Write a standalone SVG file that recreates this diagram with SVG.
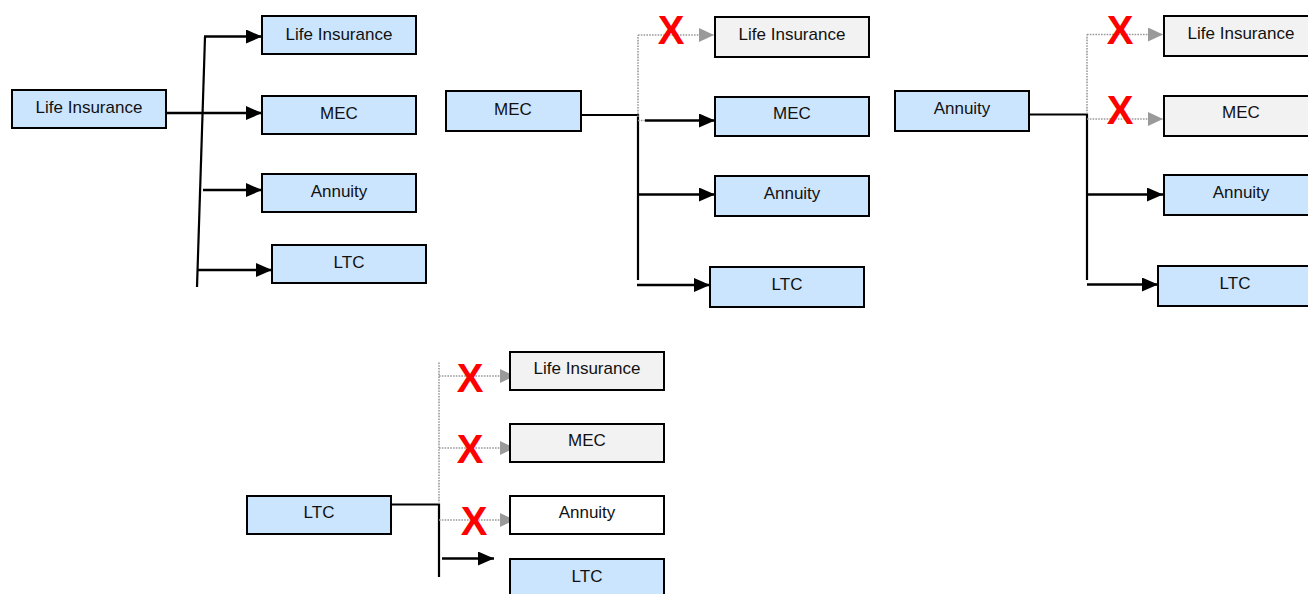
<svg xmlns="http://www.w3.org/2000/svg" width="1308" height="594" viewBox="0 0 1308 594">
<style>
.box{stroke:#000;stroke-width:2}
.blue{fill:#CCE5FF}
.gray{fill:#F2F2F2}
.white{fill:#FFFFFF}
.lbl{font-family:"Liberation Sans",Arial,sans-serif;font-size:17px;fill:#111;text-anchor:middle}
.ln{stroke:#000;stroke-width:2.2;fill:none}
.arr{stroke:#000;stroke-width:2.5;fill:none;marker-end:url(#ab)}
.dot{stroke:#9a9a9a;stroke-width:1.6;stroke-dasharray:1.6 1.2;fill:none}
.darr{stroke:#9a9a9a;stroke-width:1.6;stroke-dasharray:1.6 1.2;fill:none;marker-end:url(#ag)}
.x{font-family:"Liberation Sans",Arial,sans-serif;font-weight:bold;font-size:40px;fill:#FF0000;text-anchor:middle}
</style>
<defs>
<marker id="ab" markerUnits="userSpaceOnUse" markerWidth="18" markerHeight="16" refX="16" refY="7" orient="auto">
<path d="M0,0 L16,7 L0,14 Z" fill="#000"/>
</marker>
<marker id="ag" markerUnits="userSpaceOnUse" markerWidth="18" markerHeight="16" refX="15" refY="7" orient="auto">
<path d="M0,0 L15,7 L0,14 Z" fill="#9a9a9a"/>
</marker>
</defs>

<g id="connectors">
<!-- panel 1 -->
<line class="ln" x1="205" y1="37" x2="197" y2="287"/>
<path class="arr" d="M204,36.5 H262"/>
<path class="arr" d="M166,113 H262"/>
<path class="arr" d="M203,190 H262"/>
<path class="arr" d="M197,270 H272"/>
<!-- panel 2 -->
<path class="ln" d="M581,115 H638 V280"/>
<path class="dot" d="M638,117 V35"/>
<path class="darr" d="M638,35 H714"/>
<path class="dot" d="M638,120.5 H646"/>
<path class="arr" d="M645,120.5 H715"/>
<path class="arr" d="M638,194.5 H715"/>
<path class="arr" d="M637,285 H710"/>
<!-- panel 3 -->
<path class="ln" d="M1029,114.5 H1087 V280"/>
<path class="dot" d="M1087,114 V34.5"/>
<path class="darr" d="M1087,34.5 H1163"/>
<path class="darr" d="M1087,119 H1163"/>
<path class="arr" d="M1087,194.5 H1163"/>
<path class="arr" d="M1087,284.5 H1158"/>
<!-- panel 4 -->
<path class="ln" d="M391,504.5 H439 V577"/>
<path class="dot" d="M439,504 V362"/>
<path class="darr" d="M439,376 H515"/>
<path class="darr" d="M439,448 H515"/>
<path class="darr" d="M439,520 H515"/>
<path class="arr" d="M442,558.5 H494"/>
</g>

<g id="crosses">
<text class="x" x="671" y="44">X</text>
<text class="x" x="1120" y="44">X</text>
<text class="x" x="1120" y="124">X</text>
<text class="x" x="470" y="392">X</text>
<text class="x" x="470" y="463">X</text>
<text class="x" x="474" y="535">X</text>
</g>

<!-- panel 1 -->
<g id="p1-src"><rect class="box blue" x="12" y="90" width="154" height="38"/><text class="lbl" x="89" y="113">Life Insurance</text></g>
<g id="p1-life"><rect class="box blue" x="262" y="16" width="154" height="38"/><text class="lbl" x="339" y="40">Life Insurance</text></g>
<g id="p1-mec"><rect class="box blue" x="262" y="96" width="154" height="38"/><text class="lbl" x="339" y="119">MEC</text></g>
<g id="p1-ann"><rect class="box blue" x="262" y="174" width="154" height="38"/><text class="lbl" x="339" y="197">Annuity</text></g>
<g id="p1-ltc"><rect class="box blue" x="272" y="245" width="154" height="38"/><text class="lbl" x="349" y="268">LTC</text></g>

<!-- panel 2 -->
<g id="p2-src"><rect class="box blue" x="446" y="91" width="135" height="40"/><text class="lbl" x="513" y="115">MEC</text></g>
<g id="p2-life"><rect class="box gray" x="715" y="17" width="154" height="40"/><text class="lbl" x="792" y="40">Life Insurance</text></g>
<g id="p2-mec"><rect class="box blue" x="715" y="97" width="154" height="39"/><text class="lbl" x="792" y="119">MEC</text></g>
<g id="p2-ann"><rect class="box blue" x="715" y="176" width="154" height="40"/><text class="lbl" x="792" y="199">Annuity</text></g>
<g id="p2-ltc"><rect class="box blue" x="710" y="267" width="154" height="40"/><text class="lbl" x="787" y="290">LTC</text></g>

<!-- panel 3 -->
<g id="p3-src"><rect class="box blue" x="895" y="91" width="134" height="40"/><text class="lbl" x="962" y="114">Annuity</text></g>
<g id="p3-life"><rect class="box gray" x="1164" y="16" width="154" height="40"/><text class="lbl" x="1241" y="39">Life Insurance</text></g>
<g id="p3-mec"><rect class="box gray" x="1164" y="96" width="154" height="40"/><text class="lbl" x="1241" y="118">MEC</text></g>
<g id="p3-ann"><rect class="box blue" x="1164" y="175" width="154" height="40"/><text class="lbl" x="1241" y="198">Annuity</text></g>
<g id="p3-ltc"><rect class="box blue" x="1158" y="266" width="154" height="40"/><text class="lbl" x="1235" y="289">LTC</text></g>

<!-- panel 4 -->
<g id="p4-src"><rect class="box blue" x="247" y="496" width="144" height="38"/><text class="lbl" x="319" y="518">LTC</text></g>
<g id="p4-life"><rect class="box gray" x="510" y="352" width="154" height="38"/><text class="lbl" x="587" y="374">Life Insurance</text></g>
<g id="p4-mec"><rect class="box gray" x="510" y="424" width="154" height="38"/><text class="lbl" x="587" y="446">MEC</text></g>
<g id="p4-ann"><rect class="box white" x="510" y="496" width="154" height="38"/><text class="lbl" x="587" y="518">Annuity</text></g>
<g id="p4-ltc"><rect class="box blue" x="510" y="559" width="154" height="40"/><text class="lbl" x="587" y="582">LTC</text></g>
</svg>
